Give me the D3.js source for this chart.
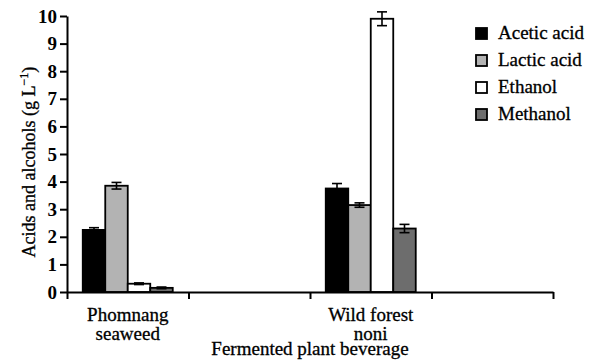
<!DOCTYPE html>
<html>
<head>
<meta charset="utf-8">
<script src="https://cdn.jsdelivr.net/npm/d3@7"></script>
<style>
  body { margin: 0; background: #fff; }
</style>
</head>
<body>
<script>
// beverages on the x axis (two empty slots as in the original)
var beverages = ["Phomnang seaweed", "empty1", "Wild forest noni", "empty2"];
var beverageLabels = [["Phomnang", "seaweed"], [], ["Wild forest", "noni"], []];
var compounds = ["Acetic acid", "Lactic acid", "Ethanol", "Methanol"];
var colors = ["#000000", "#b3b3b3", "#ffffff", "#6d6d6d"];

// g/L
var phomnang = [2.25, 3.85, 0.3, 0.15];
var phomnangErr = [0.08, 0.12, 0.03, 0.03];
var noni = [3.75, 3.15, 9.9, 2.3];
var noniErr = [0.18, 0.08, 0.25, 0.15];

var yTicks = [0, 1, 2, 3, 4, 5, 6, 7, 8, 9, 10];

var width = 592, height = 364;
var margin = {top: 16, right: 39, bottom: 72, left: 67};
var serif = "Liberation Serif";

var svg = d3.select("body").append("svg")
    .attr("width", width)
    .attr("height", height)
    .style("font-family", serif);

var y = d3.scaleLinear().domain([0, 10]).range([height - margin.bottom, margin.top]);
var x = d3.scaleBand().domain(beverages).range([margin.left, width - margin.right]);
var xEdge = d3.scaleLinear().domain([0, beverages.length]).range([margin.left, width - margin.right]);
var xInner = d3.scaleBand().domain(compounds).range([0, x.bandwidth()]).paddingOuter(0.7);

var groups = [
  {name: beverages[0], values: phomnang, err: phomnangErr},
  {name: beverages[2], values: noni, err: noniErr}
];

var bars = [];
groups.forEach(function (g) {
  compounds.forEach(function (c, i) {
    bars.push({group: g.name, key: c, value: g.values[i], err: g.err[i], color: colors[i]});
  });
});

// bars
svg.selectAll("rect.bar")
    .data(bars)
  .enter().append("rect")
    .attr("class", "bar")
    .attr("x", function (d) { return x(d.group) + xInner(d.key); })
    .attr("y", function (d) { return y(d.value); })
    .attr("width", xInner.bandwidth())
    .attr("height", function (d) { return y(0) - y(d.value); })
    .attr("fill", function (d) { return d.color; })
    .attr("stroke", "#000")
    .attr("stroke-width", 1.8);

// error bars
var eb = svg.selectAll("g.err")
    .data(bars)
  .enter().append("g")
    .attr("class", "err")
    .attr("transform", function (d) {
      return "translate(" + (x(d.group) + xInner(d.key) + xInner.bandwidth() / 2) + ",0)";
    })
    .attr("stroke", "#000")
    .attr("stroke-width", 1.6);
eb.append("line")
    .attr("y1", function (d) { return y(d.value - d.err); })
    .attr("y2", function (d) { return y(d.value + d.err); });
eb.append("line")
    .attr("x1", -5).attr("x2", 5)
    .attr("y1", function (d) { return y(d.value + d.err); })
    .attr("y2", function (d) { return y(d.value + d.err); });
eb.append("line")
    .attr("x1", -5).attr("x2", 5)
    .attr("y1", function (d) { return y(d.value - d.err); })
    .attr("y2", function (d) { return y(d.value - d.err); });

// y axis
var yAxis = svg.append("g")
    .attr("transform", "translate(" + margin.left + ",0)")
    .call(d3.axisLeft(y).tickValues(yTicks).tickFormat(d3.format("d")).tickSize(7).tickSizeOuter(0).tickPadding(3));
yAxis.selectAll("path, line").attr("stroke", "#000").attr("stroke-width", 2);
yAxis.selectAll("text")
    .style("font-family", serif)
    .style("font-size", "19px")
    .style("font-weight", "bold");

// x axis, ticks at the slot edges
var xAxis = svg.append("g")
    .attr("transform", "translate(0," + y(0) + ")")
    .call(d3.axisBottom(xEdge).ticks(beverages.length).tickFormat("").tickSize(7).tickSizeOuter(0));
xAxis.selectAll("path, line").attr("stroke", "#000").attr("stroke-width", 2);

// category labels
var lab = svg.selectAll("text.cat")
    .data(beverages)
  .enter().append("text")
    .attr("class", "cat")
    .attr("text-anchor", "middle")
    .style("font-family", serif)
    .style("font-size", "19px")
    .attr("stroke", "#000")
    .attr("stroke-width", 0.3)
    .attr("x", function (d) { return x(d) + x.bandwidth() / 2; })
    .attr("y", y(0) + 29);
lab.selectAll("tspan")
    .data(function (d, i) { return beverageLabels[i]; })
  .enter().append("tspan")
    .attr("x", function () { return d3.select(this.parentNode).attr("x"); })
    .attr("dy", function (d, i) { return i === 0 ? 0 : 19; })
    .text(function (d) { return d; });

// axis titles
svg.append("text")
    .attr("text-anchor", "middle")
    .style("font-family", serif)
    .style("font-size", "19px")
    .attr("stroke", "#000")
    .attr("stroke-width", 0.3)
    .attr("x", (margin.left + width - margin.right) / 2)
    .attr("y", height - 9)
    .text("Fermented plant beverage");

var yt = svg.append("text")
    .attr("text-anchor", "middle")
    .style("font-family", serif)
    .style("font-size", "18px")
    .attr("stroke", "#000")
    .attr("stroke-width", 0.3)
    .attr("transform", "translate(35," + ((y(0) + y(10)) / 2 + 8) + ") rotate(-90)");
yt.append("tspan").text("Acids and alcohols (g L");
yt.append("tspan").attr("dy", -7).style("font-size", "12px").text("\u22121");
yt.append("tspan").attr("dy", 7).text(")");

// legend
var legend = svg.selectAll("g.legend")
    .data(compounds)
  .enter().append("g")
    .attr("class", "legend")
    .attr("transform", function (d, i) { return "translate(476," + (28 + i * 27) + ")"; });
legend.append("rect")
    .attr("width", 11).attr("height", 11)
    .attr("fill", function (d, i) { return colors[i]; })
    .attr("stroke", "#000")
    .attr("stroke-width", 1.8);
legend.append("text")
    .attr("x", 22)
    .attr("y", 11)
    .style("font-family", serif)
    .style("font-size", "19px")
    .attr("stroke", "#000")
    .attr("stroke-width", 0.3)
    .text(function (d) { return d; });
</script>
</body>
</html>
